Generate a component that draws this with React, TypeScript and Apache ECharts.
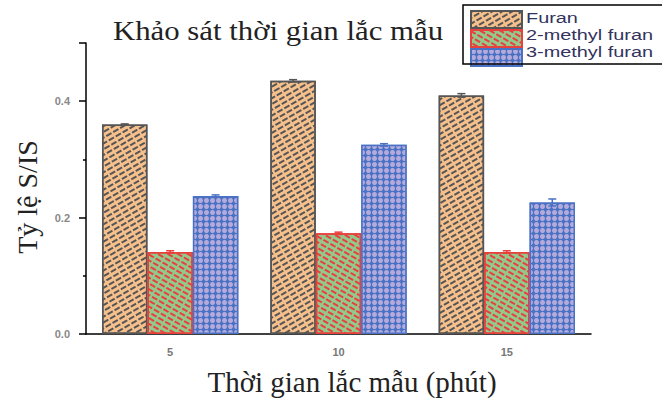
import React, { useEffect, useRef } from "react";
import * as echarts from "echarts";

const categories = ["5", "10", "15"];
const seriesNames = ["Furan", "2-methyl furan", "3-methyl furan"];
const furan = [0.36, 0.435, 0.41];
const furanErr = [0.001, 0.002, 0.003];
const methyl2 = [0.141, 0.173, 0.141];
const methyl2Err = [0.002, 0.002, 0.002];
const methyl3 = [0.237, 0.325, 0.226];
const methyl3Err = [0.002, 0.002, 0.006];
const yTickLabels = ["0.0", "0.2", "0.4"];

const title = "Khảo sát thời gian lắc mẫu";
const xName = "Thời gian lắc mẫu (phút)";
const yName = "Tỷ lệ S/IS";

const GROUP_FRACTION = 0.81;

export default function App() {
  const ref = useRef<HTMLDivElement>(null);
  useEffect(() => {
    if (!ref.current) return;
    const chart = echarts.init(ref.current, undefined, { renderer: "svg" });
    const values = [furan, methyl2, methyl3];
    const errs = [furanErr, methyl2Err, methyl3Err];
    const fills = ["#f6c08c", "#93c98d", "#4a72c4"];
    const borders = ["#555555", "#e8403c", "#4a72c4"];
    const decals: any[] = [
      { symbol: "rect", color: "#555555", dashArrayX: [[6, 1.5]], dashArrayY: [1.2, 2.3], rotation: -Math.PI / 6, symbolSize: 1 },
      { symbol: "rect", color: "#e8403c", dashArrayX: [[6, 1.5]], dashArrayY: [1.2, 2.3], rotation: Math.PI / 6, symbolSize: 1 },
      { symbol: "circle", color: "#b4aadc", dashArrayX: [[4.5, 1]], dashArrayY: [4.5, 1], rotation: 0, symbolSize: 1 },
    ];
    const barSeries = seriesNames.map((name, i) => ({
      name,
      type: "bar",
      data: values[i],
      barGap: "0%",
      barCategoryGap: Math.round((1 - GROUP_FRACTION) * 100) + "%",
      itemStyle: {
        color: fills[i],
        borderColor: borders[i],
        borderWidth: 1.5,
        decal: decals[i],
      },
      z: 2,
    }));
    const errSeries = seriesNames.map((name, i) => ({
      name: name + " err",
      type: "custom",
      data: values[i].map((v, k) => [k, v, errs[i][k]]),
      encode: { x: 0, y: 1 },
      z: 5,
      silent: true,
      renderItem: (params: any, api: any) => {
        const xi = api.value(0);
        const v = api.value(1);
        const e = api.value(2);
        const band = api.size([1, 0])[0];
        const barW = (band * GROUP_FRACTION) / 3;
        const cx = api.coord([xi, 0])[0] + (i - 1) * barW;
        const top = api.coord([xi, v + e])[1];
        const bot = api.coord([xi, v - e])[1];
        const st = { stroke: borders[i], lineWidth: 1.5 };
        return {
          type: "group",
          children: [
            { type: "line", shape: { x1: cx, y1: top, x2: cx, y2: bot }, style: st },
            { type: "line", shape: { x1: cx - 4, y1: top, x2: cx + 4, y2: top }, style: st },
            { type: "line", shape: { x1: cx - 4, y1: bot, x2: cx + 4, y2: bot }, style: st },
          ],
        };
      },
    }));
    const legendTexts = seriesNames.map((name, i) => ({
      type: "text",
      x: 526,
      y: 18.5 + i * 17,
      scaleX: 1.42,
      style: { text: name, font: "14px 'Liberation Sans'", fill: "#33335e", verticalAlign: "middle" },
    }));
    chart.setOption({
      animation: false,
      backgroundColor: "#ffffff",
      grid: { left: 86, right: 71, top: 43, bottom: 65, containLabel: false },
      legend: {
        data: seriesNames,
        orient: "vertical",
        left: 470,
        top: 10,
        padding: 0,
        itemGap: 0,
        itemWidth: 51,
        itemHeight: 17,
        icon: "rect",
        formatter: () => "",
        textStyle: { fontSize: 1 },
      },
      xAxis: {
        type: "category",
        data: categories,
        axisLine: { lineStyle: { color: "#000", width: 1.5 } },
        axisTick: { alignWithLabel: true, length: 6, lineStyle: { color: "#000", width: 1.5 } },
        axisLabel: { margin: 12, fontFamily: "Liberation Sans", fontSize: 11, fontWeight: "bold", color: "#777" },
      },
      yAxis: {
        type: "value",
        min: 0,
        max: 0.5,
        interval: 0.2,
        splitLine: { show: false },
        axisLine: { show: true, lineStyle: { color: "#000", width: 1.5 } },
        axisTick: { show: true, length: 7, lineStyle: { color: "#000", width: 1.5 } },
        minorTick: { show: true, splitNumber: 2, length: 3, lineStyle: { color: "#000", width: 1.5 } },
        axisLabel: {
          margin: 16,
          fontFamily: "Liberation Sans",
          fontSize: 11,
          fontWeight: "bold",
          color: "#888",
          formatter: (v: number) => {
            const idx = Math.round(v / 0.2);
            return Math.abs(v - idx * 0.2) < 1e-6 && idx < yTickLabels.length ? yTickLabels[idx] : "";
          },
        },
      },
      graphic: [
        {
          type: "rect",
          shape: { x: 463, y: 5, width: 220, height: 59 },
          style: { fill: "none", stroke: "#000", lineWidth: 1.5 },
          z: 10,
        },
        ...legendTexts,
        {
          type: "text",
          x: 278,
          y: 30,
          scaleX: 1.1,
          style: { text: title, font: "28px 'Liberation Serif'", fill: "#222", align: "center", verticalAlign: "middle" },
        },
        {
          type: "text",
          x: 352,
          y: 382,
          style: { text: xName, font: "29px 'Liberation Serif'", fill: "#222", align: "center", verticalAlign: "middle" },
        },
        {
          type: "text",
          x: 27,
          y: 197,
          rotation: Math.PI / 2,
          style: { text: yName, font: "28px 'Liberation Serif'", fill: "#222", align: "center", verticalAlign: "middle" },
        },
      ],
      series: [...barSeries, ...errSeries],
    });
    return () => chart.dispose();
  }, []);
  return <div ref={ref} style={{ position: "fixed", left: 0, top: 0, width: 662, height: 399 }} />;
}
